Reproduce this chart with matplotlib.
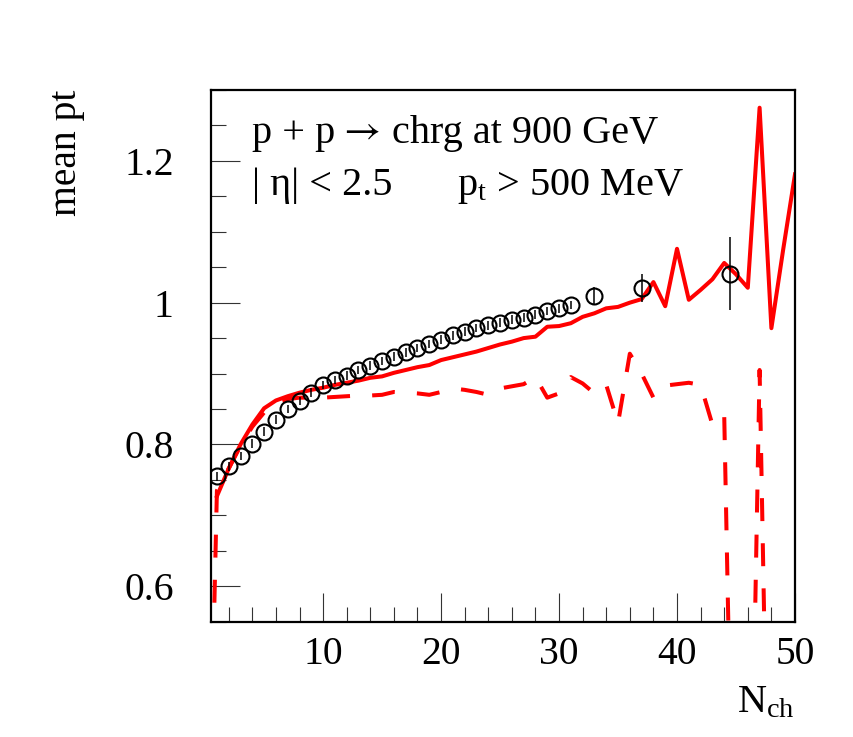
import numpy as np
import matplotlib
matplotlib.use("Agg")
import matplotlib.pyplot as plt
from matplotlib.ticker import MultipleLocator

plt.rcParams['font.family'] = ['Liberation Serif', 'DejaVu Serif']
plt.rcParams['mathtext.fontset'] = 'custom'
plt.rcParams['mathtext.rm'] = 'Liberation Serif'
plt.rcParams['mathtext.it'] = 'Liberation Serif:italic'

# data points (open circles)
data_x = [1, 2, 3, 4, 5, 6, 7, 8, 9, 10, 11, 12, 13, 14, 15, 16, 17, 18, 19, 20,
          21, 22, 23, 24, 25, 26, 27, 28, 29, 30, 31, 33, 37, 44.5]
data_y = [0.755, 0.769, 0.784, 0.801, 0.818, 0.835, 0.850, 0.861, 0.873, 0.884,
          0.891, 0.897, 0.905, 0.911, 0.918, 0.924, 0.930, 0.936, 0.942, 0.948,
          0.954, 0.959, 0.964, 0.968, 0.972, 0.976, 0.979, 0.983, 0.988, 0.992,
          0.997, 1.010, 1.021, 1.041]
data_err = [0.006] * 31 + [0.012, 0.020, 0.052]

# model, solid line
solid_x = list(range(1, 51))
solid_y = [0.727, 0.766, 0.800, 0.828, 0.851, 0.862, 0.868, 0.873, 0.877, 0.880,
           0.884, 0.887, 0.890, 0.894, 0.896, 0.901, 0.905, 0.909, 0.912, 0.919,
           0.923, 0.927, 0.931, 0.936, 0.941, 0.945, 0.950, 0.952, 0.966, 0.967,
           0.971, 0.980, 0.985, 0.992, 0.994, 1.000, 1.005, 1.029, 0.995, 1.076,
           1.004, 1.018, 1.033, 1.056, 1.040, 1.021, 1.275, 0.964, 1.075, 1.181]

# model, dashed line
dash_x = list(range(0, 51))
dash_y = [0.0, 0.735, 0.766, 0.798, 0.825, 0.845, 0.858, 0.864, 0.866, 0.866, 0.866,
          0.867, 0.868, 0.869, 0.869, 0.870, 0.874, 0.873, 0.872, 0.870, 0.874,
          0.879, 0.877, 0.874, 0.870, 0.879, 0.882, 0.885, 0.895, 0.866, 0.872,
          0.895, 0.886, 0.872, 0.884, 0.830, 0.928, 0.900, 0.866, 0.883, 0.885,
          0.887, 0.884, 0.828, 0.842, 0.0, 0.0, 0.905, 0.0, 0.0, 0.0]

fig = plt.figure(figsize=(8.54, 7.37), dpi=100)
ax = fig.add_axes([0.2471, 0.1565, 0.6838, 0.7214])

ax.plot(solid_x, solid_y, color='red', lw=2.9)
ax.plot(dash_x, dash_y, color='red', lw=2.9, linestyle=(0, (5.7, 5.5)))
ax.errorbar(data_x, data_y, yerr=data_err, fmt='o', mfc='none', mec='black',
            ms=11.5, mew=1.5, ecolor='black', elinewidth=1.1, capsize=0)

ax.set_xlim(0.5, 50)
ax.set_ylim(0.55, 1.30)

ax.xaxis.set_major_locator(MultipleLocator(10))
ax.xaxis.set_minor_locator(MultipleLocator(2))
ax.yaxis.set_major_locator(MultipleLocator(0.2))
ax.yaxis.set_minor_locator(MultipleLocator(0.05))
ax.yaxis.set_major_formatter(plt.FuncFormatter(lambda v, p: f"{v:g}"))

ax.tick_params(which='both', direction='in', top=False, right=False,
               labelsize=28.5, color='#333333', width=0.8)
ax.tick_params(axis='x', which='major', length=21, pad=10)
ax.tick_params(axis='x', which='minor', length=11)
ax.tick_params(axis='y', which='major', length=21, pad=27)
ax.tick_params(axis='y', which='minor', length=10.5)
for s in ax.spines.values():
    s.set_linewidth(1.6)

# header text, pixel positions converted to axes fractions
def ax_x(px):
    return (px - 211) / 584.0

line1_y = 0.900
line2_y = 0.8025
ax.text(ax_x(251.7), line1_y, "p + p", transform=ax.transAxes,
        fontsize=29, va='baseline', ha='left')
ax.text(ax_x(361.7), line1_y + 0.004, "\u2192", transform=ax.transAxes,
        fontsize=29, va='baseline', ha='center', family='STIXGeneral')
ax.text(ax_x(391.7), line1_y, "chrg at 900 GeV", transform=ax.transAxes,
        fontsize=29, va='baseline', ha='left')
ax.text(ax_x(251.7), line2_y, "| \u03b7| < 2.5", transform=ax.transAxes,
        fontsize=29, va='baseline', ha='left')
ax.text(ax_x(456.7), line2_y, r"$\mathregular{p_t}$ > 500 MeV", transform=ax.transAxes,
        fontsize=29, va='baseline', ha='left')

ax.text(-0.248, 1.0, "mean pt", transform=ax.transAxes, fontsize=28.5,
        rotation=90, ha='center', va='top')
ax.text(1.0, -0.170, r"$\mathregular{N_{ch}}$", transform=ax.transAxes,
        fontsize=29, ha='right', va='baseline')

fig.savefig("out.png", dpi=100)
